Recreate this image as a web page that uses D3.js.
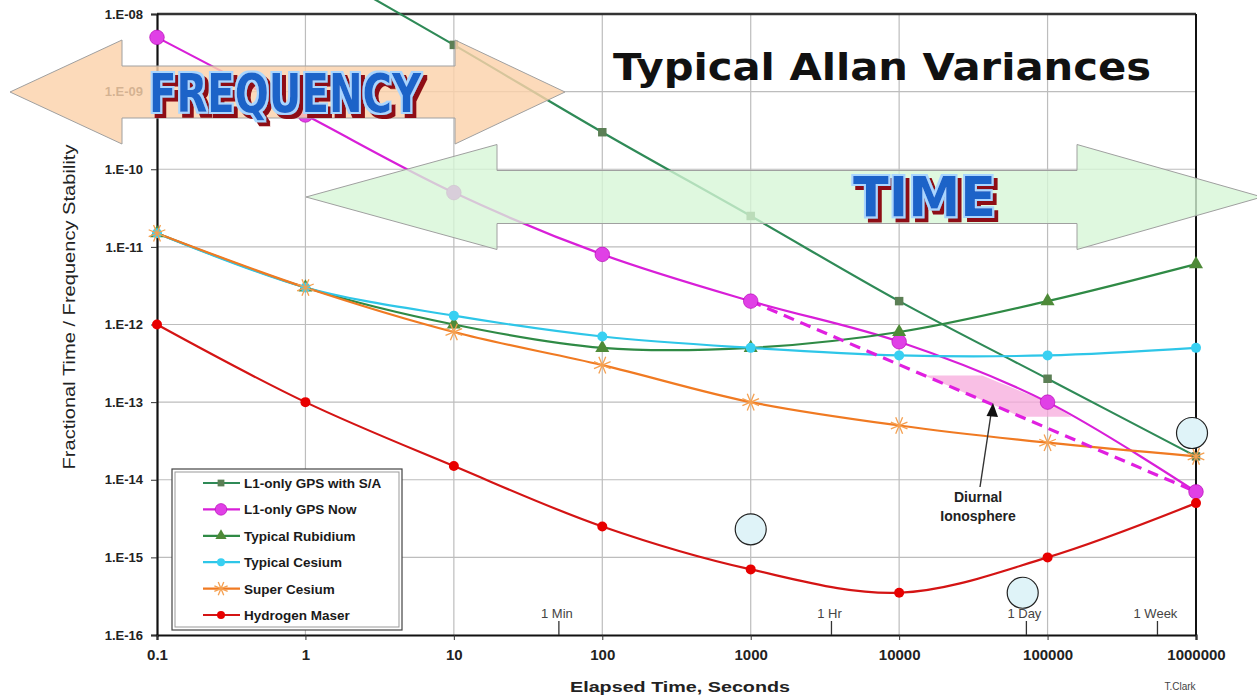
<!DOCTYPE html>
<html><head><meta charset="utf-8">
<script src="https://cdn.jsdelivr.net/npm/d3@7"></script>
<style>
html,body{margin:0;padding:0;background:#fff;}
svg{display:block;font-family:"Liberation Sans",Arial,sans-serif;}
</style></head>
<body>
<svg id="chart" width="1257" height="695"></svg>
<script>
// ---------------- DATA ----------------
const tau = [0.1, 1, 10, 100, 1000, 10000, 100000, 1000000];
const xTickValues = [0.1, 1, 10, 100, 1000, 10000, 100000, 1000000];
const xTickLabels = ["0.1","1","10","100","1000","10000","100000","1000000"];
const yTickValues = [1e-8,1e-9,1e-10,1e-11,1e-12,1e-13,1e-14,1e-15,1e-16];
const yTickLabels = ["1.E-08","1.E-09","1.E-10","1.E-11","1.E-12","1.E-13","1.E-14","1.E-15","1.E-16"];
const timeTickValues = [51, 3500, 72000, 550000];
const timeTickLabels = ["1 Min","1 Hr","1 Day","1 Week"];

const seriesNames = ["L1-only GPS with S/A","L1-only GPS Now","Typical Rubidium","Typical Cesium","Super Cesium","Hydrogen Maser"];
const gpsSA     = [null, 5e-8, 4e-9, 3e-10, 2.5e-11, 2e-12, 2e-13, 2e-14];
const gpsNow    = [5e-9, 5e-10, 5e-11, 8e-12, 2e-12, 6e-13, 1e-13, 7e-15];
const rubidium  = [1.5e-11, 3e-12, 1e-12, 5e-13, 5e-13, 8e-13, 2e-12, 6e-12];
const cesium    = [1.5e-11, 3e-12, 1.3e-12, 7e-13, 5e-13, 4e-13, 4e-13, 5e-13];
const superCs   = [1.5e-11, 3e-12, 8e-13, 3e-13, 1e-13, 5e-14, 3e-14, 2e-14];
const maser     = [1e-12, 1e-13, 1.5e-14, 2.5e-15, 7e-16, 3.5e-16, 1e-15, 5e-15];

const ionoDashTau = [1000, 1000000];
const ionoDashVal = [2e-12, 7e-15];
const ionoBand = [2.2e-13, 6.5e-14];   // shaded band vertical extent
const bubbleTau = [1000, 68000, 940000];
const bubbleVal = [2.3e-15, 3.5e-16, 4e-14];

// ---------------- LAYOUT ----------------
const svg = d3.select("#chart");
const L = 157, R = 1196, T = 14, B = 635;
const x = d3.scaleLog().domain([0.1, 1e6]).range([L, R]);
const y = d3.scaleLog().domain([1e-16, 1e-8]).range([B, T]);

// filter for the outlined / shadowed banner words
const defs = svg.append("defs");
const f = defs.append("filter").attr("id", "banner").attr("x", "-10%").attr("y", "-20%").attr("width", "130%").attr("height", "150%");
f.append("feMorphology").attr("in", "SourceAlpha").attr("operator", "dilate").attr("radius", 1.8).attr("result", "fat");
f.append("feFlood").attr("flood-color", "#a9d6ff").attr("result", "lb");
f.append("feComposite").attr("in", "lb").attr("in2", "fat").attr("operator", "in").attr("result", "outline");
f.append("feOffset").attr("in", "fat").attr("dx", 3.5).attr("dy", 4).attr("result", "off");
f.append("feFlood").attr("flood-color", "#8e0c12").attr("result", "dr");
f.append("feComposite").attr("in", "dr").attr("in2", "off").attr("operator", "in").attr("result", "shadow");
const fm = f.append("feMerge");
fm.append("feMergeNode").attr("in", "shadow");
fm.append("feMergeNode").attr("in", "outline");
fm.append("feMergeNode").attr("in", "SourceGraphic");

// grid
const grid = svg.append("g");
grid.selectAll("line.v").data(xTickValues.slice(1, -1)).enter().append("line")
  .attr("x1", d => x(d)).attr("x2", d => x(d)).attr("y1", T).attr("y2", B)
  .attr("stroke", "#bdbdbd").attr("stroke-width", 1.2);
grid.selectAll("line.h").data(yTickValues.slice(1, -1)).enter().append("line")
  .attr("x1", L).attr("x2", R).attr("y1", d => y(d)).attr("y2", d => y(d))
  .attr("stroke", "#bdbdbd").attr("stroke-width", 1.2);

// borders
svg.append("line").attr("x1", L).attr("x2", R).attr("y1", T).attr("y2", T).attr("stroke", "#333").attr("stroke-width", 2.5);
svg.append("line").attr("x1", R).attr("x2", R).attr("y1", T).attr("y2", B).attr("stroke", "#111").attr("stroke-width", 2);

// axes
const yAxis = d3.axisLeft(y).tickValues(yTickValues).tickFormat((d, i) => yTickLabels[i]).tickSize(6).tickPadding(8);
const gy = svg.append("g").attr("transform", `translate(${L},0)`).call(yAxis);
gy.select(".domain").attr("stroke", "#111").attr("stroke-width", 2.2);
gy.selectAll(".tick line").attr("stroke", "#333");
gy.selectAll("text").attr("font-size", 13).attr("font-weight", "bold").attr("fill", "#222")
  .attr("font-family", "'Liberation Sans',Arial,sans-serif");

const xAxis = d3.axisBottom(x).tickValues(xTickValues).tickFormat((d, i) => xTickLabels[i]).tickSize(5).tickPadding(9);
const gx = svg.append("g").attr("transform", `translate(0,${B})`).call(xAxis);
gx.select(".domain").attr("stroke", "#111").attr("stroke-width", 2.2);
gx.selectAll(".tick line").attr("stroke", "#333");
gx.selectAll("text").attr("font-size", 15).attr("font-weight", "bold").attr("fill", "#222")
  .attr("font-family", "'Liberation Sans',Arial,sans-serif");

// time ticks
const tt = svg.append("g");
timeTickValues.forEach((v, i) => {
  tt.append("line").attr("x1", x(v)).attr("x2", x(v)).attr("y1", 621).attr("y2", B).attr("stroke", "#333").attr("stroke-width", 1.3);
  tt.append("text").attr("x", x(v) - 2).attr("y", 618).attr("text-anchor", "middle")
    .attr("font-size", 13).attr("fill", "#444").text(timeTickLabels[i]);
});

// axis titles
svg.append("text").attr("x", 680).attr("y", 692).attr("text-anchor", "middle")
  .attr("font-size", 15).attr("font-weight", "bold").attr("fill", "#222")
  .attr("textLength", 220).attr("lengthAdjust", "spacingAndGlyphs").text("Elapsed Time, Seconds");
svg.append("text").attr("transform", "translate(75,307) rotate(-90)").attr("text-anchor", "middle")
  .attr("font-size", 17).attr("fill", "#222")
  .attr("textLength", 325).attr("lengthAdjust", "spacingAndGlyphs").text("Fractional Time / Frequency Stability");
svg.append("text").attr("x", 1180).attr("y", 690).attr("text-anchor", "middle")
  .attr("font-size", 10).attr("fill", "#444").text("T.Clark");

// title
svg.append("text").attr("x", 613).attr("y", 80).attr("font-size", 38).attr("font-weight", "bold")
  .attr("font-family", "'DejaVu Sans',sans-serif").attr("fill", "#111")
  .attr("textLength", 538).attr("lengthAdjust", "spacingAndGlyphs").text("Typical Allan Variances");

// ---------------- SERIES ----------------
const series = [
  {name: seriesNames[0], vals: gpsSA,    color: "#2f8a57", mcolor: "#5b7f55", marker: "square"},
  {name: seriesNames[1], vals: gpsNow,   color: "#d81fd8", mcolor: "#e040e6", marker: "bigcircle"},
  {name: seriesNames[2], vals: rubidium, color: "#2f8a45", mcolor: "#4e8a38", marker: "triangle"},
  {name: seriesNames[3], vals: cesium,   color: "#2ec6e8", mcolor: "#38d0f2", marker: "circle"},
  {name: seriesNames[4], vals: superCs,  color: "#f07a22", mcolor: "#f5a050", marker: "star"},
  {name: seriesNames[5], vals: maser,    color: "#d41414", mcolor: "#e80000", marker: "redcircle"}
];

// shaded band (between dashed and solid GPS Now)
function interpLog(xs, ys, yv) {
  const ly = Math.log10(yv);
  for (let i = 0; i < xs.length - 1; i++) {
    const a = Math.log10(ys[i]), b = Math.log10(ys[i + 1]);
    if ((ly <= a && ly >= b) || (ly >= a && ly <= b)) {
      const t = (ly - a) / (b - a);
      return Math.pow(10, Math.log10(xs[i]) + t * (Math.log10(xs[i + 1]) - Math.log10(xs[i])));
    }
  }
  return null;
}
const bandPts = [];
const nS = 12;
const ly0 = Math.log10(ionoBand[0]), ly1 = Math.log10(ionoBand[1]);
for (let k = 0; k <= nS; k++) {
  const v = Math.pow(10, ly0 + (ly1 - ly0) * k / nS);
  bandPts.push([x(interpLog(tau, gpsNow, v)), y(v)]);
}
for (let k = nS; k >= 0; k--) {
  const v = Math.pow(10, ly0 + (ly1 - ly0) * k / nS);
  bandPts.push([x(interpLog(ionoDashTau, ionoDashVal, v)), y(v)]);
}
svg.append("path").attr("d", d3.line()(bandPts) + "Z").attr("fill", "#f7a9dc").attr("opacity", 0.75);

const line = d3.line().defined(d => d[1] != null).x(d => x(d[0])).y(d => y(d[1])).curve(d3.curveCatmullRom.alpha(0.5));
const linesG = svg.append("g");
series.forEach(s => {
  const pts = tau.map((t, i) => [t, s.vals[i]]);
  linesG.append("path").attr("d", line(pts)).attr("fill", "none").attr("stroke", s.color).attr("stroke-width", 2.2);
});
// dashed ionosphere line
svg.append("path").attr("d", d3.line().x(d => x(d[0])).y(d => y(d[1]))(ionoDashTau.map((t, i) => [t, ionoDashVal[i]])))
  .attr("fill", "none").attr("stroke", "#e01fe0").attr("stroke-width", 3.2).attr("stroke-dasharray", "11,7");

function drawMarker(g, type, cx, cy, s, small) {
  const k = small ? 0.8 : 1;
  if (type === "square") {
    g.append("path").attr("transform", `translate(${cx},${cy})`).attr("d", d3.symbol(d3.symbolSquare, 72 * k * k)())
      .attr("fill", s.mcolor);
  } else if (type === "bigcircle") {
    g.append("circle").attr("cx", cx).attr("cy", cy).attr("r", 7.3 * k).attr("fill", s.mcolor).attr("stroke", "#b000b0").attr("stroke-width", 0.6);
  } else if (type === "triangle") {
    g.append("path").attr("transform", `translate(${cx},${cy})`).attr("d", d3.symbol(d3.symbolTriangle, 85 * k * k)())
      .attr("fill", s.mcolor);
  } else if (type === "circle") {
    g.append("circle").attr("cx", cx).attr("cy", cy).attr("r", 5 * k).attr("fill", s.mcolor);
  } else if (type === "star") {
    const r = 9 * k;
    for (let j = 0; j < 4; j++) {
      const a = j * Math.PI / 4 + Math.PI / 8;
      g.append("line").attr("x1", cx - r * Math.cos(a)).attr("y1", cy - r * Math.sin(a))
        .attr("x2", cx + r * Math.cos(a)).attr("y2", cy + r * Math.sin(a))
        .attr("stroke", s.mcolor).attr("stroke-width", 1.3);
    }
  } else if (type === "redcircle") {
    g.append("circle").attr("cx", cx).attr("cy", cy).attr("r", 5 * k).attr("fill", s.mcolor);
  }
}
const markG = svg.append("g");
series.forEach(s => {
  tau.forEach((t, i) => {
    if (s.vals[i] == null) return;
    const py = y(s.vals[i]);
    if (py < 0) return;
    drawMarker(markG, s.marker, x(t), py, s, false);
  });
});

// ---------------- ANNOTATIONS ----------------
bubbleTau.forEach((t, i) => {
  svg.append("circle").attr("cx", x(t)).attr("cy", y(bubbleVal[i])).attr("r", 15.5)
    .attr("fill", "#dff3f8").attr("stroke", "#222").attr("stroke-width", 1.2);
});

svg.append("line").attr("x1", 980).attr("y1", 487).attr("x2", 991).attr("y2", 414).attr("stroke", "#333").attr("stroke-width", 1.4);
svg.append("path").attr("d", "M993,403 L986.5,416 L998,417 Z").attr("fill", "#111");
svg.append("text").attr("x", 978).attr("y", 502).attr("text-anchor", "middle").attr("font-size", 14).attr("font-weight", "bold").attr("fill", "#222").text("Diurnal");
svg.append("text").attr("x", 978).attr("y", 521).attr("text-anchor", "middle").attr("font-size", 14).attr("font-weight", "bold").attr("fill", "#222").text("Ionosphere");

function dblArrow(xl, xbl, xbr, xr, cy, hs, hh) {
  return `M${xl},${cy} L${xbl},${cy - hh} L${xbl},${cy - hs} L${xbr},${cy - hs} L${xbr},${cy - hh} L${xr},${cy} L${xbr},${cy + hh} L${xbr},${cy + hs} L${xbl},${cy + hs} L${xbl},${cy + hh} Z`;
}
svg.append("path").attr("d", dblArrow(10, 122, 455, 565, 92, 26, 52))
  .attr("fill", "#fbd2ab").attr("fill-opacity", 0.82).attr("stroke", "#a0a0a0").attr("stroke-width", 1);
svg.append("path").attr("d", dblArrow(306, 497, 1077, 1262, 197, 26.5, 52.5))
  .attr("fill", "#d6f6d6").attr("fill-opacity", 0.78).attr("stroke", "#a0a0a0").attr("stroke-width", 1);

function bannerText(txt, xx, yy, size, len) {
  svg.append("text").attr("x", xx).attr("y", yy).text(txt)
    .attr("font-family", "'DejaVu Sans',sans-serif").attr("font-weight", "bold").attr("font-size", size)
    .attr("textLength", len).attr("lengthAdjust", "spacingAndGlyphs")
    .attr("fill", "#1a63c8").attr("filter", "url(#banner)");
}
bannerText("FREQUENCY", 149, 112, 54, 272);
bannerText("TIME", 853, 216, 56, 143);

// ---------------- LEGEND ----------------
const lg = svg.append("g");
lg.append("rect").attr("x", 172).attr("y", 469).attr("width", 230).attr("height", 161).attr("fill", "#fff").attr("stroke", "#444").attr("stroke-width", 1.2);
lg.append("rect").attr("x", 175).attr("y", 472).attr("width", 224).attr("height", 155).attr("fill", "none").attr("stroke", "#999").attr("stroke-width", 1);
series.forEach((s, i) => {
  const yy = 483 + i * 26.4;
  lg.append("line").attr("x1", 203).attr("x2", 240).attr("y1", yy).attr("y2", yy).attr("stroke", s.color).attr("stroke-width", 2.2);
  drawMarker(lg, s.marker, 221, yy, s, true);
  lg.append("text").attr("x", 244).attr("y", yy + 5).attr("font-size", 13.5).attr("font-weight", "bold").attr("fill", "#1a1a1a").text(s.name);
});
</script>
</body></html>
